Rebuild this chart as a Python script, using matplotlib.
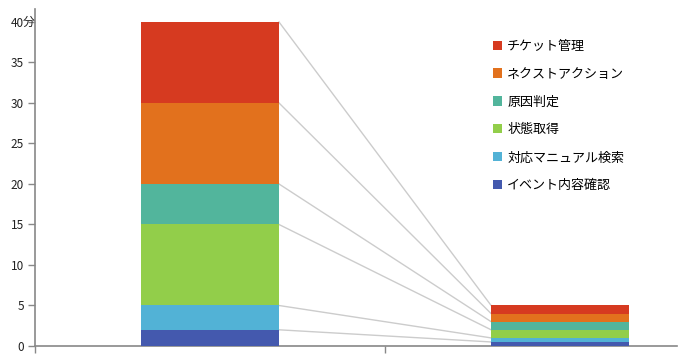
import numpy as np
import matplotlib
matplotlib.use('Agg')
import matplotlib.pyplot as plt
import matplotlib.transforms as mtransforms

plt.rcParams['font.family'] = ['Noto Sans CJK JP', 'DejaVu Sans']

# data: bottom to top
series = ['イベント内容確認', '対応マニュアル検索', '状態取得', '原因判定', 'ネクストアクション', 'チケット管理']
before = [2, 3, 10, 5, 10, 10]
after = [0.5, 0.5, 1, 1, 1, 1]
colors = ['#4459ae', '#52b2d6', '#92ce4a', '#52b59c', '#e2711d', '#d63a20']
yticks = [0, 5, 10, 15, 20, 25, 30, 35, 40]

fig = plt.figure(figsize=(6.8, 3.6), dpi=100)
ax = fig.add_axes([35/680, 14/360, 642/680, 337/360])

x = np.array([0, 1])
w = 0.394
bottom = np.zeros(2)
for name, b, a, c in zip(series, before, after, colors):
    vals = np.array([b, a])
    ax.bar(x, vals, w, bottom=bottom, color=c, label=name, zorder=3)
    bottom = bottom + vals

# connector lines between segment tops
cb = np.cumsum([0] + before)
ca = np.cumsum([0] + after)
for yb, ya in zip(cb, ca):
    ax.plot([x[0] + w/2, x[1] - w/2], [yb, ya], color='#cccccc', lw=1, zorder=2)

ax.set_xlim(-0.5, 1.334)
ax.set_ylim(0, 41.6)
ax.set_yticks(yticks)
ax.set_yticklabels([str(t) for t in yticks])
# unit mark after the top label
trans = mtransforms.blended_transform_factory(fig.transFigure, ax.transData)
ax.text(23/680, 40, '分', ha='left', va='center', fontsize=8.5, color='#222222',
        transform=trans)
ax.set_xticks([-0.5, 0.5])
ax.set_xticklabels([])
ax.tick_params(axis='y', length=5, width=1, color='#888888', labelsize=8.5, labelcolor='#222222', pad=3)
ax.tick_params(axis='x', length=5, width=1, color='#888888')
for s in ['top', 'right']:
    ax.spines[s].set_visible(False)
for s in ['left', 'bottom']:
    ax.spines[s].set_color('#888888')
    ax.spines[s].set_linewidth(1.2)

handles, labels = ax.get_legend_handles_labels()
ax.legend(handles[::-1], labels[::-1], loc='upper left', bbox_to_anchor=(481/680, 1 - 28/360),
          bbox_transform=fig.transFigure, frameon=False, fontsize=9.4,
          handlelength=0.7, handleheight=0.7, handletextpad=0.4, labelspacing=1.14)

fig.savefig('out.png', dpi=100)
